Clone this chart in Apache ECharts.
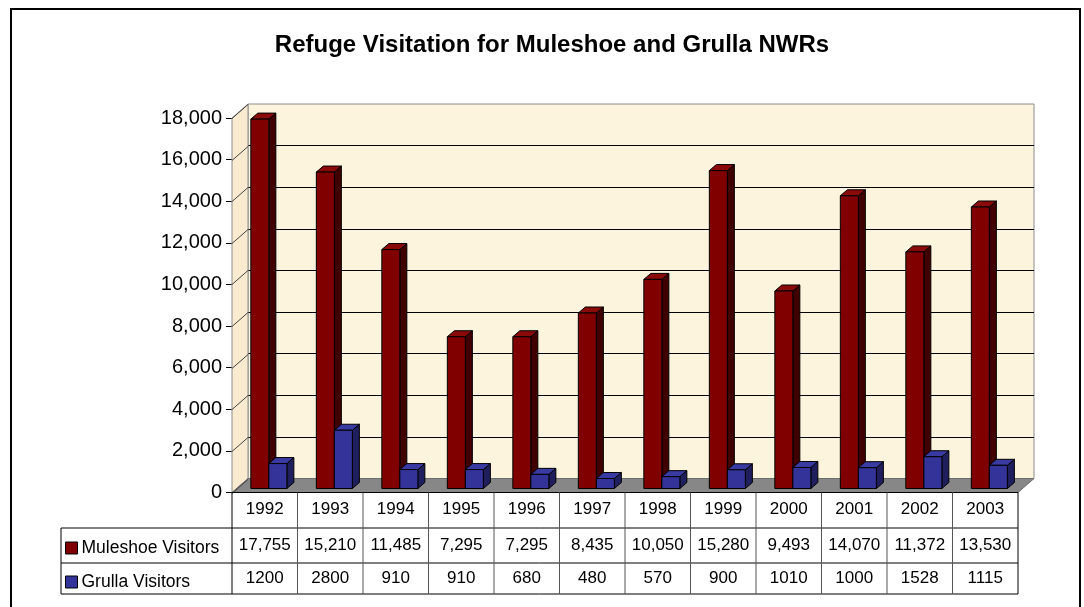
<!DOCTYPE html>
<html>
<head>
<meta charset="utf-8">
<script src="https://cdn.jsdelivr.net/npm/echarts@6/dist/echarts.min.js"></script>
<style>
html,body{margin:0;padding:0;background:#ffffff;}
#chart{width:1084px;height:607px;}
</style>
</head>
<body>
<div id="chart"></div>
<script>
// ---------------- data ----------------
const years = ['1992','1993','1994','1995','1996','1997','1998','1999','2000','2001','2002','2003'];
const muleshoe = [17755, 15210, 11485, 7295, 7295, 8435, 10050, 15280, 9493, 14070, 11372, 13530];
const grulla = [1200, 2800, 910, 910, 680, 480, 570, 900, 1010, 1000, 1528, 1115];
const seriesNames = ['Muleshoe Visitors', 'Grulla Visitors'];
const yTicks = [0, 2000, 4000, 6000, 8000, 10000, 12000, 14000, 16000, 18000];
const titleText = 'Refuge Visitation for Muleshoe and Grulla NWRs';

// ---------------- layout / style ----------------
const FONT = '"Liberation Sans", Arial, sans-serif';
const BACK = {left: 248, top: 104, width: 786, height: 374.5};   // back wall
const DX = 16, DY = 14;                                           // depth of floor (front = back + (-DX, +DY))
const FRONT = {left: BACK.left - DX, top: BACK.top + DY, width: BACK.width, height: BACK.height};
const BAR_FRONT = [-11.4, 10];   // bar front face offset from back wall
const BAR_DEPTH = [7, -6];       // bar depth vector
const BAR_FRAC = 0.275;          // bar width relative to category band
const ROWS = [FRONT.top + FRONT.height, 528, 563, 594];
const LEGEND_COL_LEFT = 61;
const COLORS = [
  {front: '#800000', top: '#8a0a0a', side: '#400000'},
  {front: '#333399', top: '#3a3aa3', side: '#1f1f5e'}
];

const chart = echarts.init(document.getElementById('chart'), null, {renderer: 'canvas'});

// measure title to center it where the reference has it
const TITLE_SIZE = 24;
const mctx = document.createElement('canvas').getContext('2d');
mctx.font = 'bold ' + TITLE_SIZE + 'px ' + FONT;
const titleW = mctx.measureText(titleText).width;

function fmt(v) { return v.toLocaleString('en-US'); }

function barRenderer(k) {
  return function (params, api) {
    const i = api.value(0), v = api.value(1);
    const top = api.coord([i, v]);
    const base = api.coord([i, 0]);
    const band = api.size([1, 0])[0];
    const bw = band * BAR_FRAC;
    const xl = (k === 0 ? top[0] - bw : top[0]) - 0.5 + BAR_FRONT[0];
    const xr = xl + bw;
    const yb = base[1] + BAR_FRONT[1];
    const yt = top[1] + BAR_FRONT[1];
    const [ddx, ddy] = BAR_DEPTH;
    const c = COLORS[k];
    const stroke = {stroke: '#000', lineWidth: 1};
    return {
      type: 'group',
      children: [
        {type: 'polygon', shape: {points: [[xr, yt], [xr + ddx, yt + ddy], [xr + ddx, yb + ddy], [xr, yb]]},
          style: Object.assign({fill: c.side}, stroke)},
        {type: 'polygon', shape: {points: [[xl, yt], [xr, yt], [xr + ddx, yt + ddy], [xl + ddx, yt + ddy]]},
          style: Object.assign({fill: c.top}, stroke)},
        {type: 'rect', shape: {x: xl, y: yt, width: bw, height: yb - yt},
          style: Object.assign({fill: c.front}, stroke)}
      ]
    };
  };
}

// side wall + floor, derived from the back-wall coordinate system
function frameRenderer(params, api) {
  const cs = params.coordSys;
  const x0 = cs.x, x1 = cs.x + cs.width, y0 = cs.y, y1 = cs.y + cs.height;
  return {
    type: 'group',
    children: [
      {type: 'polygon', shape: {points: [[x0 - DX, y0 + DY], [x0, y0], [x0, y1], [x0 - DX, y1 + DY]]},
        style: {fill: '#FAEAD0', stroke: '#8c8c8c', lineWidth: 1}},
      {type: 'polygon', shape: {points: [[x0 - DX, y1 + DY], [x0, y1], [x1, y1], [x1 - DX, y1 + DY]]},
        style: {fill: '#878787', stroke: '#6e6e6e', lineWidth: 1}}
    ]
  };
}

function sideGridRenderer(params, api) {
  const cs = params.coordSys;
  const v = api.value(1);
  const p = api.coord([0, v]);
  const y = Math.round(p[1]) + 0.5;
  return {
    type: 'line',
    shape: {x1: cs.x - DX, y1: y + DY, x2: cs.x, y2: y},
    style: {stroke: '#444', lineWidth: 1}
  };
}

// ---------------- data table (graphic) ----------------
const colW = FRONT.width / years.length;
const tableEls = [];
const lineStyle = {stroke: '#000', lineWidth: 1};
const tLeft = FRONT.left, tRight = FRONT.left + FRONT.width;
// horizontal lines
tableEls.push({type: 'line', shape: {x1: tLeft, y1: ROWS[0], x2: tRight, y2: ROWS[0]}, style: lineStyle, z: 5});
for (let r = 1; r < ROWS.length; r++) {
  tableEls.push({type: 'line', shape: {x1: LEGEND_COL_LEFT, y1: ROWS[r], x2: tRight, y2: ROWS[r]}, style: lineStyle, z: 5});
}
// vertical lines
tableEls.push({type: 'line', shape: {x1: LEGEND_COL_LEFT, y1: ROWS[1], x2: LEGEND_COL_LEFT, y2: ROWS[3]}, style: lineStyle, z: 5});
for (let k = 0; k <= years.length; k++) {
  const x = tLeft + k * colW;
  tableEls.push({type: 'line', shape: {x1: x, y1: ROWS[0], x2: x, y2: ROWS[3]},
    style: {stroke: (k === 0 || k === years.length) ? '#000' : '#555', lineWidth: 1}, z: 5});
}
// cell texts
const rowTexts = [years, muleshoe.map(fmt), grulla.map(String)];
rowTexts.forEach((arr, r) => {
  const cy = (ROWS[r] + ROWS[r + 1]) / 2 - 0.5;
  arr.forEach((t, i) => {
    tableEls.push({type: 'text', x: tLeft + (i + 0.5) * colW, y: cy, z: 6,
      style: {text: t, fill: '#000', font: '17px ' + FONT, textAlign: 'center', textVerticalAlign: 'middle'}});
  });
});
// outer border
tableEls.push({type: 'rect', shape: {x: 11, y: 9, width: 1069, height: 640},
  style: {fill: 'none', stroke: '#000', lineWidth: 2}, z: 10, silent: true});

const option = {
  animation: false,
  backgroundColor: '#ffffff',
  title: {
    text: titleText,
    left: 552 - titleW / 2,
    top: 33,
    padding: 0,
    textStyle: {fontFamily: FONT, fontSize: TITLE_SIZE, fontWeight: 'bold', color: '#000'}
  },
  legend: {
    data: seriesNames,
    orient: 'vertical',
    left: 65,
    top: 539,
    padding: 0,
    itemWidth: 12,
    itemHeight: 12,
    itemGap: 16,
    icon: 'rect',
    itemStyle: {borderColor: '#000', borderWidth: 1},
    textStyle: {fontFamily: FONT, fontSize: 17.5, color: '#000', padding: [0, 0, 0, -1]},
    selectedMode: false
  },
  grid: [
    {left: BACK.left, top: BACK.top, width: BACK.width, height: BACK.height, show: true,
      backgroundColor: '#FCF4DC', borderColor: '#8c8c8c', borderWidth: 1},
    {left: FRONT.left, top: FRONT.top, width: FRONT.width, height: FRONT.height}
  ],
  xAxis: [
    {gridIndex: 0, type: 'category', data: years, show: false},
    {gridIndex: 1, type: 'category', data: years, show: false}
  ],
  yAxis: [
    {gridIndex: 0, type: 'value', min: 0, max: 18000, interval: 2000,
      axisLine: {show: false}, axisTick: {show: false}, axisLabel: {show: false},
      splitLine: {show: true, showMinLine: false, showMaxLine: false, lineStyle: {color: '#000', width: 1}}},
    {gridIndex: 1, type: 'value', min: 0, max: 18000, interval: 2000,
      axisLine: {show: true, lineStyle: {color: '#000', width: 1}},
      axisTick: {show: true, length: 6, lineStyle: {color: '#000'}},
      axisLabel: {fontFamily: FONT, fontSize: 20, color: '#000', margin: 10,
        formatter: v => fmt(v)},
      splitLine: {show: false}}
  ],
  series: [
    {type: 'custom', name: 'frame', xAxisIndex: 0, yAxisIndex: 0, silent: true, z: 1,
      data: [[0, 0]], renderItem: frameRenderer},
    {type: 'custom', name: 'sidegrid', xAxisIndex: 0, yAxisIndex: 0, silent: true, z: 2,
      data: yTicks.map(v => [0, v]), renderItem: sideGridRenderer},
    {type: 'custom', name: seriesNames[0], xAxisIndex: 0, yAxisIndex: 0, z: 3,
      itemStyle: {color: COLORS[0].front},
      encode: {x: 0, y: 1},
      data: muleshoe.map((v, i) => [i, v]), renderItem: barRenderer(0)},
    {type: 'custom', name: seriesNames[1], xAxisIndex: 0, yAxisIndex: 0, z: 4,
      itemStyle: {color: COLORS[1].front},
      encode: {x: 0, y: 1},
      data: grulla.map((v, i) => [i, v]), renderItem: barRenderer(1)}
  ],
  graphic: {elements: tableEls}
};

chart.setOption(option);
</script>
</body>
</html>
